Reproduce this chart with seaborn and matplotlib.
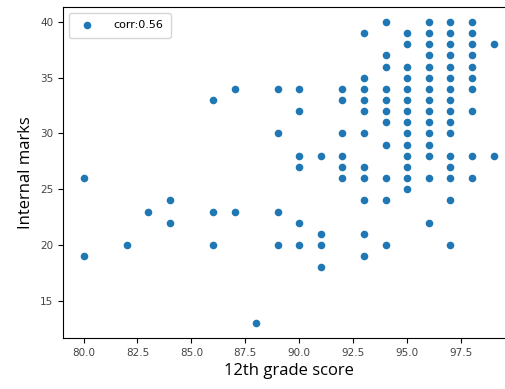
import matplotlib

matplotlib.use("Agg")
import matplotlib.pyplot as plt
import pandas as pd
import seaborn as sns

# 12th grade score vs internal marks
grade_scores = (
    [80] * 2 + [82] + [83] + [84] * 2 + [86] * 3 + [87] * 2 + [88]
    + [89] * 4 + [90] * 6 + [91] * 4 + [92] * 6 + [93] * 11 + [94] * 11
    + [95] * 14 + [96] * 15 + [97] * 16 + [98] * 10 + [99] * 2
)
internal_marks = (
    [26, 19]
    + [20]
    + [23]
    + [24, 22]
    + [33, 23, 20]
    + [34, 23]
    + [13]
    + [34, 30, 23, 20]
    + [34, 32, 28, 27, 22, 20]
    + [28, 21, 20, 18]
    + [34, 33, 30, 28, 27, 26]
    + [39, 35, 34, 33, 32, 30, 27, 26, 24, 21, 19]
    + [40, 37, 36, 34, 33, 32, 31, 29, 26, 24, 20]
    + [39, 38, 36, 35, 34, 33, 32, 31, 30, 29, 28, 27, 26, 25]
    + [40, 39, 38, 37, 36, 35, 34, 33, 32, 31, 30, 29, 28, 26, 22]
    + [40, 39, 38, 37, 36, 35, 34, 33, 32, 31, 30, 28, 27, 26, 24, 20]
    + [40, 39, 38, 37, 36, 35, 34, 32, 28, 26]
    + [38, 28]
)
corr_label = "corr:0.56"

df = pd.DataFrame({"12th grade score": grade_scores, "Internal marks": internal_marks})

fig = plt.figure(figsize=(5.06, 3.89), dpi=100)
# axes run off the right edge, like the cropped screenshot
ax = fig.add_axes([63 / 506, 51 / 389, 451 / 506, 331 / 389])

sns.scatterplot(
    data=df,
    x="12th grade score",
    y="Internal marks",
    color="#1f77b4",
    s=30,
    linewidth=0,
    label=corr_label,
    ax=ax,
)

ax.set_xticks([80.0, 82.5, 85.0, 87.5, 90.0, 92.5, 95.0, 97.5])
ax.set_yticks([15, 20, 25, 30, 35, 40])
ax.tick_params(labelsize=7.5, labelcolor="#444444")
ax.set_xlabel("12th grade score", fontsize=12, family="Open Sans")
ax.set_ylabel("Internal marks", fontsize=12, family="Open Sans")
ax.legend(loc="upper left", fontsize=8, handletextpad=1.3, borderpad=0.7)

fig.savefig("out.png", dpi=100)
